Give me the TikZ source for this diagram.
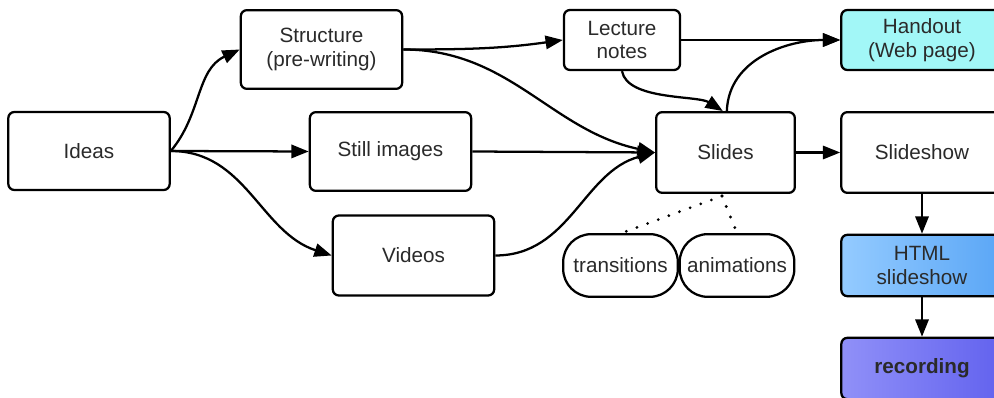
\documentclass[tikz,border=0pt]{standalone}
\usepackage{fontspec}
\setmainfont{Liberation Sans}
\usetikzlibrary{arrows.meta,shapes.misc}
\definecolor{txt}{HTML}{2A2A2A}
\definecolor{handfill}{HTML}{A2F7F7}
\definecolor{htmlL}{HTML}{94CBFF}
\definecolor{htmlR}{HTML}{5AA6F6}
\definecolor{recL}{HTML}{9090F8}
\definecolor{recR}{HTML}{6262EE}
\tikzset{
  box/.style={draw=black, line width=1.7pt, rounded corners=4.5pt, fill=white,
    text=txt, align=center, inner sep=0pt, font=\fontsize{15.5}{17.5}\selectfont},
  pill/.style={draw=black, line width=1.7pt, rounded corners=21pt, fill=white,
    text=txt, align=center, inner sep=0pt, minimum width=86pt, minimum height=47pt,
    font=\fontsize{15.5}{17.5}\selectfont},
  conn/.style={line width=1.7pt, -{Triangle[length=13pt,width=10pt]}},
  dotline/.style={line width=2.3pt, line cap=round, dash pattern=on 0pt off 8.5pt}
}
\begin{document}
\begin{tikzpicture}[x=0.75pt,y=-0.75pt]
\useasboundingbox (0,0) rectangle (994,398);
\clip (0,0) rectangle (994,398);
\node[box, minimum width=121pt, minimum height=58.5pt] (ideas) at (89,151) {Ideas};
\node[box, minimum width=121pt, minimum height=59pt] (struct) at (321.5,49.5) {Structure\\(pre-writing)};
\node[box, minimum width=121pt, minimum height=59pt] (still) at (390.5,151.5) {Still images};
\node[box, minimum width=121pt, minimum height=60pt] (videos) at (413.5,255.5) {Videos};
\node[box, minimum width=87pt, minimum height=45pt] (lecture) at (622,40) {Lecture\\notes};
\node[box, minimum width=104pt, minimum height=60.5pt] (slides) at (725.5,152.5) {Slides};
\node[box, fill=handfill, minimum width=121pt, minimum height=45pt] (handout) at (922,40) {Handout\\(Web page)};
\node[box, minimum width=121pt, minimum height=60.5pt] (slideshow) at (922,152.5) {Slideshow};
\node[box, left color=htmlL, right color=htmlR, minimum width=121pt, minimum height=46pt] (html) at (922,265.5) {HTML\\slideshow};
\node[box, left color=recL, right color=recR, minimum width=121pt, minimum height=46pt, font=\fontsize{15.5}{17.5}\selectfont\bfseries] (rec) at (922,368.5) {recording};
\node[pill] (trans) at (620.5,265.5) {transitions};
\node[pill] (anim) at (737,265.5) {animations};

\draw[conn] (ideas.east) to[out=50,in=205] (struct.west);
\draw[conn] (ideas.east) -- (still.west);
\draw[conn] (ideas.east) to[out=0,in=162] (videos.west);
\draw[conn] (struct.east) to[out=0,in=188] (lecture.west);
\draw[conn] (struct.east) to[out=0,in=168] (slides.west);
\draw[conn] (still.east) -- (slides.west);
\draw[conn] (videos.east) to[out=0,in=195] (slides.west);
\draw[conn] (lecture.east) -- (handout.west);
\draw[conn] (lecture.south) to[out=-80,in=148,looseness=0.7] ([xshift=-2pt]slides.north);
\draw[conn] ([xshift=1pt]slides.north) to[out=88,in=180] (handout.west);
\draw[conn] (slides.east) -- (slideshow.west);
\draw[conn] (slideshow.south) -- (html.north);
\draw[conn] (html.south) -- (rec.north);
\coordinate (dotsrc) at (722,196);
\draw[dotline] (dotsrc) -- ([xshift=1pt]trans.north);
\draw[dotline] (dotsrc) -- (anim.north);
\end{tikzpicture}
\end{document}
